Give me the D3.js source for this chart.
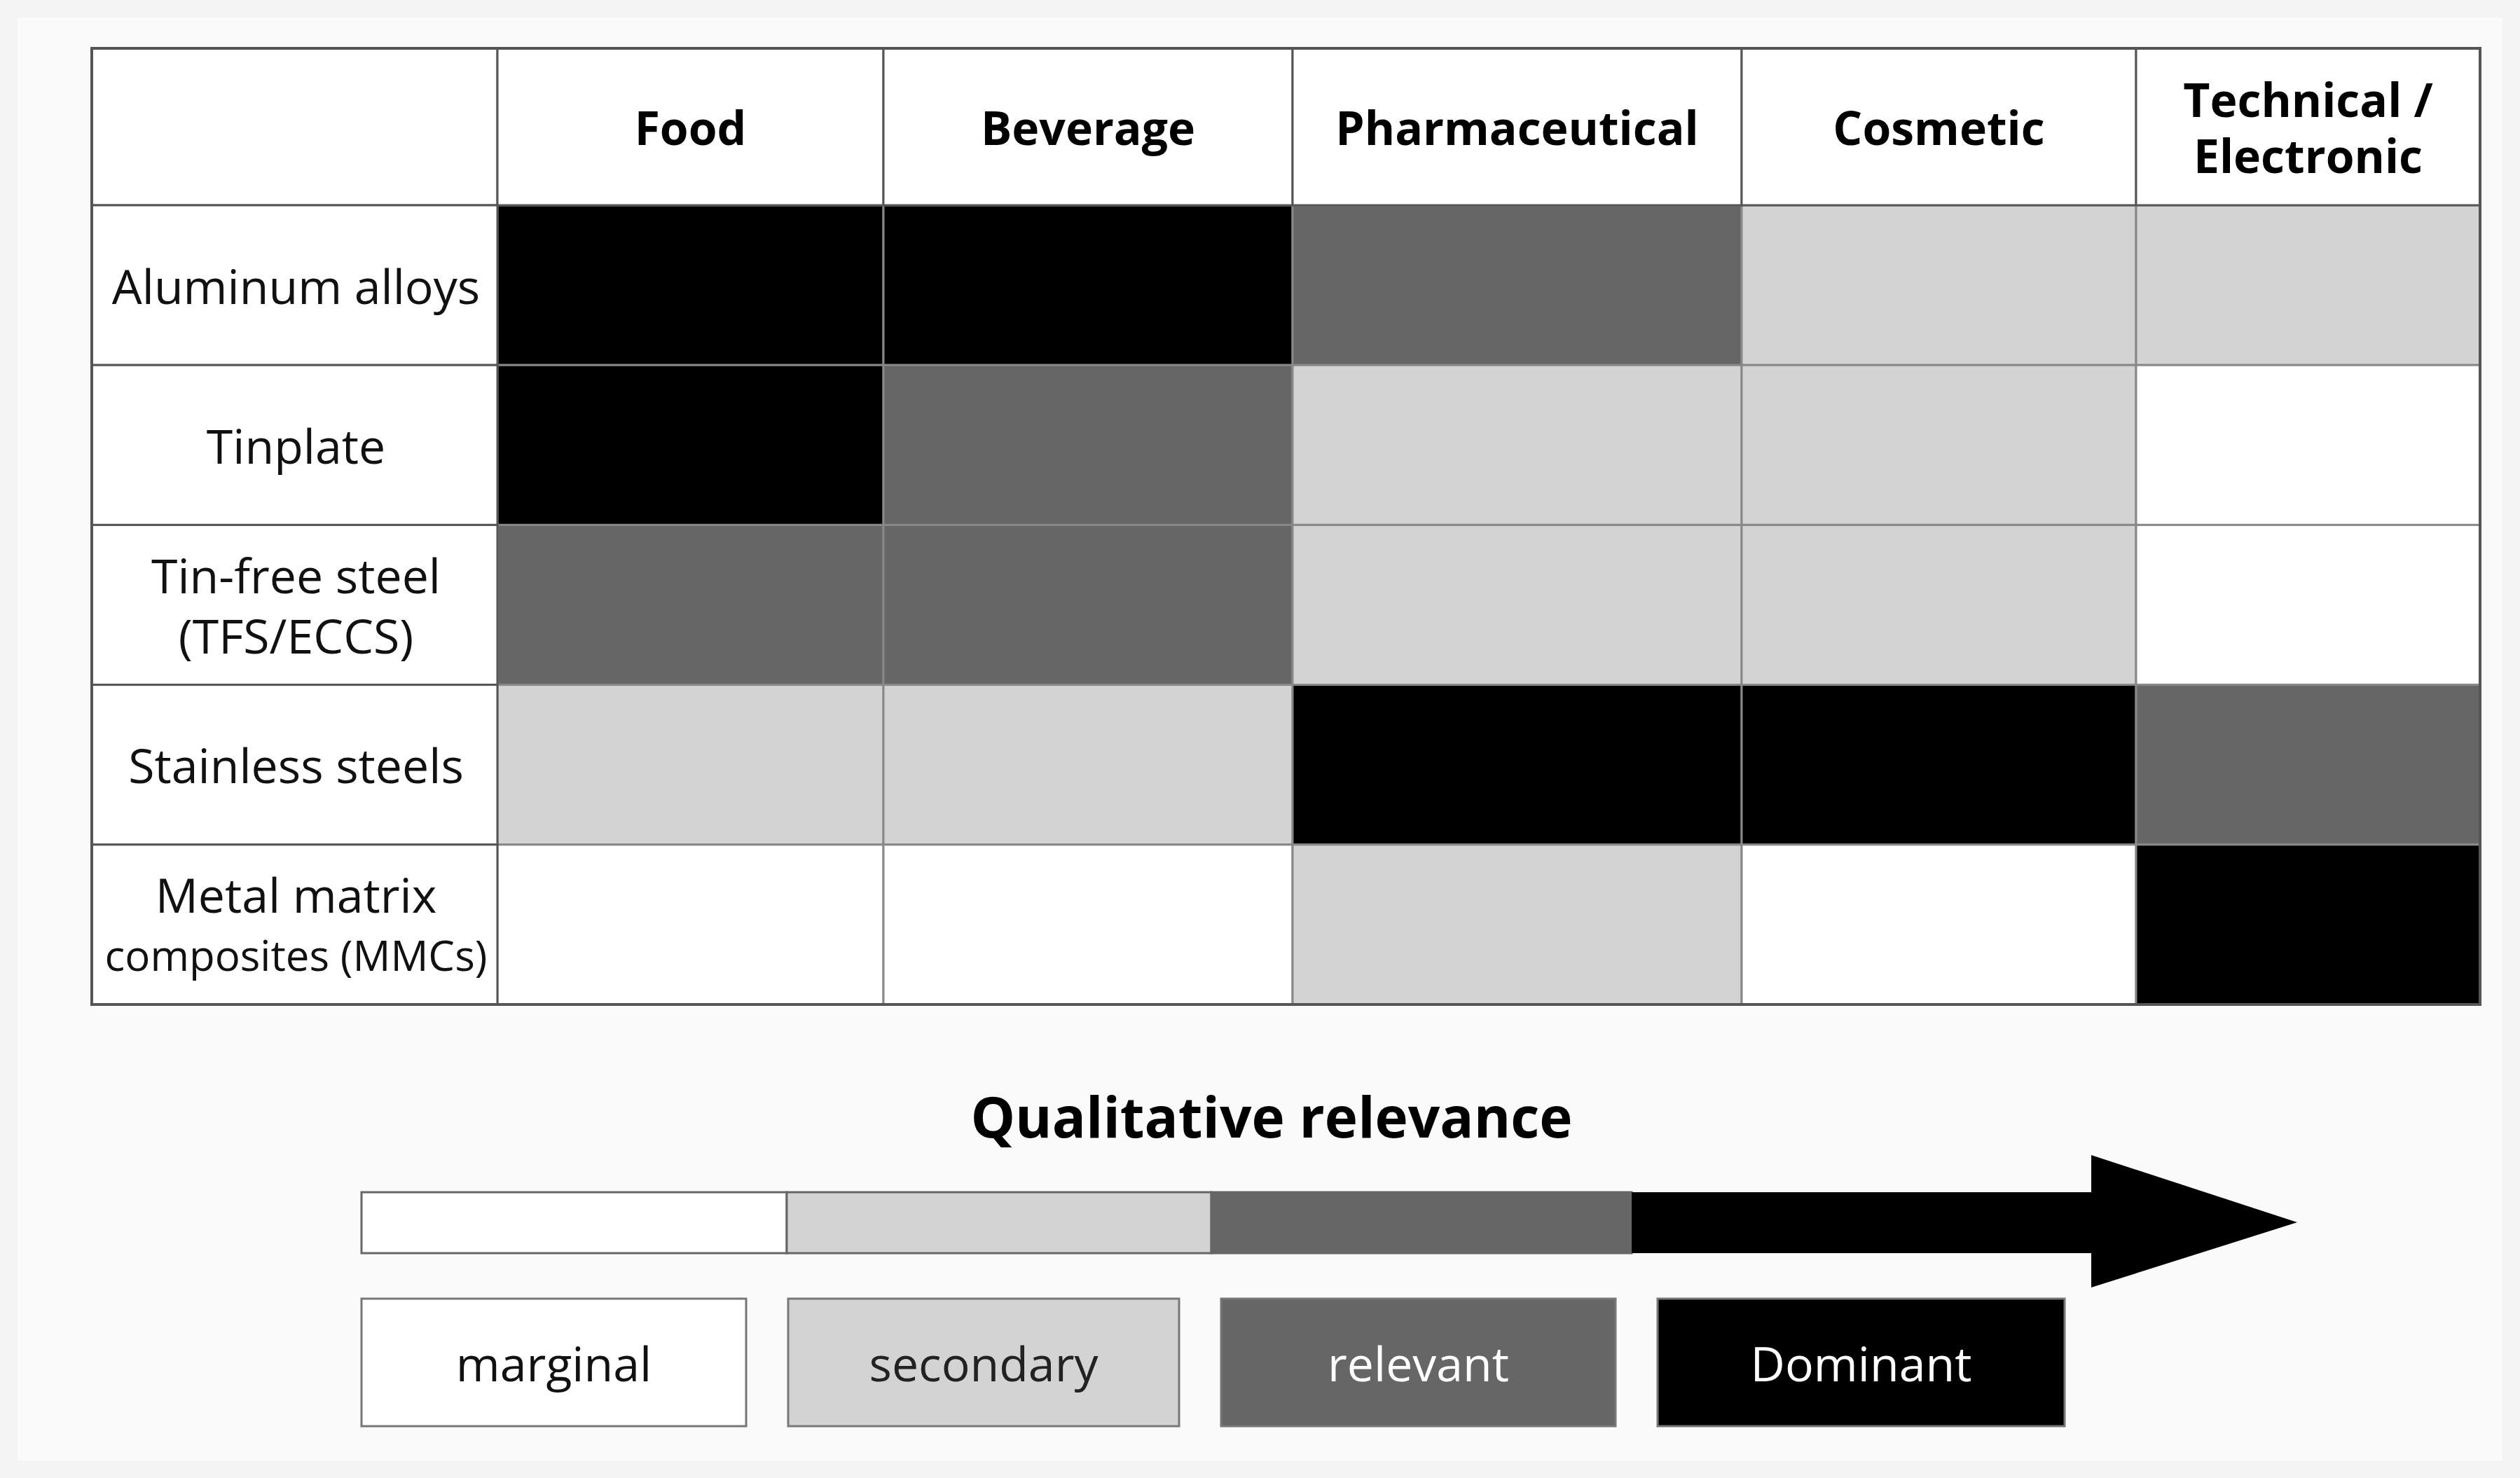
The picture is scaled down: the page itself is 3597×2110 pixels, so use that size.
<!DOCTYPE html>
<html><head><meta charset="utf-8">
<script src="https://cdn.jsdelivr.net/npm/d3@7"></script>
<style>body{margin:0;background:#f4f4f4}svg{display:block}</style>
</head><body>
<script>
// categories and relevance levels (0 marginal .. 3 dominant)
var columns = ["Food", "Beverage", "Pharmaceutical", "Cosmetic", "Technical / Electronic"];
var rows = ["Aluminum alloys", "Tinplate", "Tin-free steel (TFS/ECCS)", "Stainless steels", "Metal matrix composites (MMCs)"];
var levels = ["marginal", "secondary", "relevant", "Dominant"];
var aluminum = [3, 3, 2, 1, 1];
var tinplate = [3, 2, 1, 1, 0];
var tinFree = [2, 2, 1, 1, 0];
var stainless = [1, 1, 3, 3, 2];
var mmc = [0, 0, 1, 0, 3];
var values = [aluminum, tinplate, tinFree, stainless, mmc];

var W = 3597, H = 2110;
var svg = d3.select("body").append("svg").attr("width", W).attr("height", H);
svg.append("rect").attr("x", 25).attr("y", 25).attr("width", W - 50).attr("height", H - 50).attr("fill", "#fafafa");

var fill = d3.scaleOrdinal().domain([0, 1, 2, 3]).range(["#ffffff", "#d3d3d3", "#666666", "#000000"]);
var textFill = d3.scaleOrdinal().domain([0, 1, 2, 3]).range(["#111", "#222", "#fff", "#fff"]);

// column edges (unequal widths)
var colEdges = [710, 1261, 1845, 2486, 3049, 3540];
var x0 = d3.scaleOrdinal().domain(columns).range(colEdges.slice(0, 5));
var x1 = d3.scaleOrdinal().domain(columns).range(colEdges.slice(1));
var y = d3.scaleBand().domain(rows).range([293, 1434]);
var tableLeft = 131, tableTop = 69;
var font = "'Open Sans', 'Noto Sans', sans-serif";

// cells
rows.forEach(function(r, i) {
  svg.selectAll(null).data(values[i]).enter().append("rect")
    .attr("x", function(d, j) { return x0(columns[j]); })
    .attr("y", y(r))
    .attr("width", function(d, j) { return x1(columns[j]) - x0(columns[j]); })
    .attr("height", y.bandwidth())
    .attr("fill", function(d) { return fill(d); })
    .attr("stroke", "#888").attr("stroke-width", 3);
});

// header cells
svg.append("rect").attr("x", tableLeft).attr("y", tableTop).attr("width", 710 - tableLeft).attr("height", 293 - tableTop)
  .attr("fill", "#fff").attr("stroke", "#555").attr("stroke-width", 3);
columns.forEach(function(c) {
  svg.append("rect").attr("x", x0(c)).attr("y", tableTop).attr("width", x1(c) - x0(c)).attr("height", 293 - tableTop)
    .attr("fill", "#fff").attr("stroke", "#555").attr("stroke-width", 3);
  var parts = c === "Technical / Electronic" ? ["Technical /", "Electronic"] : [c];
  var cx = (x0(c) + x1(c)) / 2, cy = (tableTop + 293) / 2;
  parts.forEach(function(p, k) {
    svg.append("text").attr("x", cx).attr("y", cy + (k - (parts.length - 1) / 2) * 80)
      .attr("text-anchor", "middle").attr("dominant-baseline", "central")
      .attr("font-family", font).attr("font-weight", "bold").attr("font-size", 66).text(p);
  });
});

// row label cells
var rowLines = [["Aluminum alloys"], ["Tinplate"], ["Tin-free steel", "(TFS/ECCS)"], ["Stainless steels"], ["Metal matrix", "composites (MMCs)"]];
rows.forEach(function(r, i) {
  svg.append("rect").attr("x", tableLeft).attr("y", y(r)).attr("width", 710 - tableLeft).attr("height", y.bandwidth())
    .attr("fill", "#fff").attr("stroke", "#555").attr("stroke-width", 3);
  var cy = y(r) + y.bandwidth() / 2;
  rowLines[i].forEach(function(p, k) {
    var small = i === 4 && k === 1;
    svg.append("text").attr("x", (tableLeft + 710) / 2 + 2).attr("y", cy + (k - (rowLines[i].length - 1) / 2) * 86)
      .attr("text-anchor", "middle").attr("dominant-baseline", "central")
      .attr("font-family", font).attr("font-size", small ? 60 : 68).attr("fill", "#111").text(p);
  });
});
svg.append("rect").attr("x", tableLeft).attr("y", tableTop).attr("width", 3540 - tableLeft).attr("height", 1434 - tableTop)
  .attr("fill", "none").attr("stroke", "#555").attr("stroke-width", 4);

// legend
svg.append("text").attr("x", 1815).attr("y", 1592).attr("text-anchor", "middle").attr("dominant-baseline", "central")
  .attr("font-family", font).attr("font-weight", "bold").attr("font-size", 80).text("Qualitative relevance");

var barEdges = [516, 1123, 1729, 2329, 2990];
var bx = d3.scaleOrdinal().domain(levels).range(barEdges.slice(0, 4));
var bx1 = d3.scaleOrdinal().domain(levels).range(barEdges.slice(1));
svg.selectAll(".seg").data(levels).enter().append("rect")
  .attr("x", function(d) { return bx(d); }).attr("y", 1702)
  .attr("width", function(d) { return bx1(d) - bx(d); }).attr("height", 87)
  .attr("fill", function(d, i) { return fill(i); })
  .attr("stroke", function(d, i) { return i === 3 ? "none" : "#666"; }).attr("stroke-width", 3);
svg.append("path").attr("d", "M2985,1649 L3279,1745 L2985,1838 Z").attr("fill", "#000");

var boxEdges = [[516, 1065], [1125, 1683], [1743, 2306], [2366, 2947]];
var lx = d3.scaleOrdinal().domain(levels).range(boxEdges);
levels.forEach(function(l, i) {
  var e = lx(l);
  svg.append("rect").attr("x", e[0]).attr("y", 1854).attr("width", e[1] - e[0]).attr("height", 182)
    .attr("fill", fill(i)).attr("stroke", "#777").attr("stroke-width", 3);
  svg.append("text").attr("x", (e[0] + e[1]) / 2).attr("y", 1945).attr("text-anchor", "middle")
    .attr("dominant-baseline", "central").attr("font-family", font).attr("font-size", 68)
    .attr("fill", textFill(i)).text(l);
});
</script>
</body></html>
